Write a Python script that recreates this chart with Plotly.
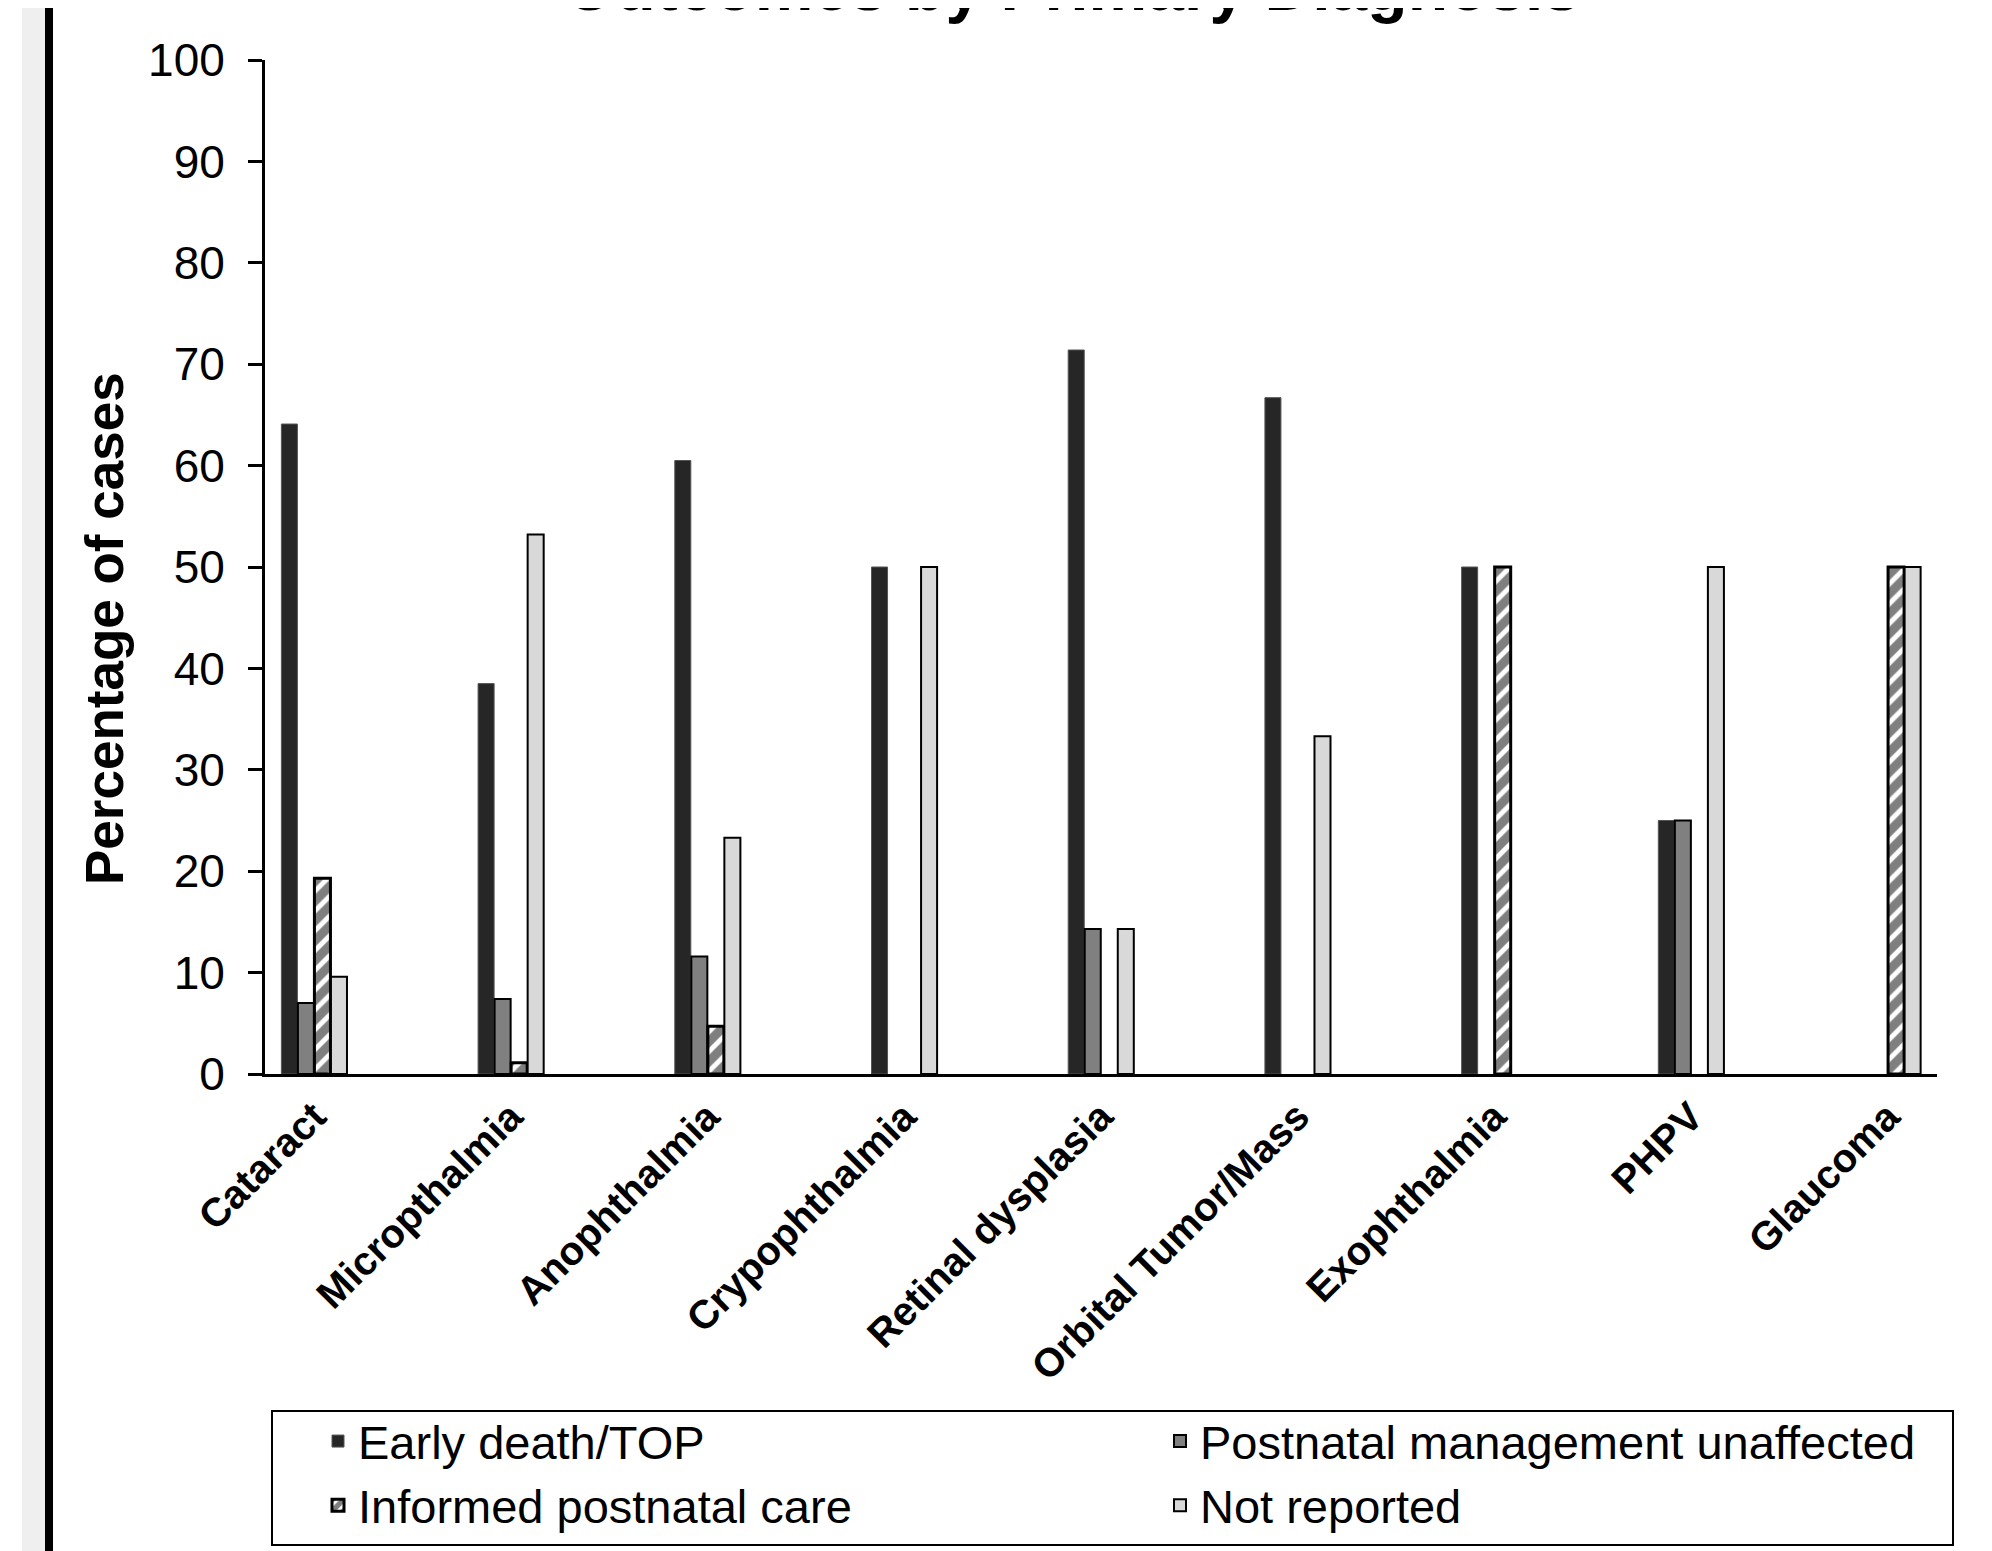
import plotly.graph_objects as go

categories = ["Cataract", "Micropthalmia", "Anophthalmia", "Crypophthalmia",
              "Retinal dysplasia", "Orbital Tumor/Mass", "Exophthalmia", "PHPV", "Glaucoma"]
early_death = [64.1, 38.5, 60.5, 50.0, 71.4, 66.7, 50.0, 25.0, None]
postnatal_unaffected = [7.0, 7.4, 11.6, None, 14.3, None, None, 25.0, None]
informed_care = [19.3, 1.1, 4.7, None, None, None, 50.0, None, 50.0]
not_reported = [9.6, 53.2, 23.3, 50.0, 14.3, 33.3, None, 50.0, 50.0]
y_ticks = [0, 10, 20, 30, 40, 50, 60, 70, 80, 90, 100]

FONT = "Liberation Sans, Arial, sans-serif"
OFF = 8  # page body margin
W, H = 1992, 1551
# desired page-pixel plot area: x 265..1937, y 60..1074
L, R, T, B = 265 - OFF, 1937 - OFF, 60 - OFF, 1074 - OFF


def px_x(p):
    return (p - OFF - L) / (R - L)


def px_y(p):
    return (B - (p - OFF)) / (B - T)


fig = go.Figure()
fig.add_trace(go.Bar(name="Early death/TOP", x=categories, y=early_death, legend="legend",
                     marker=dict(color="#262626", line=dict(color="#555555", width=1))))
fig.add_trace(go.Bar(name="Postnatal management unaffected", x=categories, y=postnatal_unaffected,
                     legend="legend2",
                     marker=dict(color="#808080", line=dict(color="#000000", width=2))))
fig.add_trace(go.Bar(name="Informed postnatal care", x=categories, y=informed_care, legend="legend",
                     marker=dict(color="#ffffff", line=dict(color="#000000", width=3),
                                 pattern=dict(shape="/", fgcolor="#000000", bgcolor="#ffffff",
                                              size=14, solidity=0.65))))
fig.add_trace(go.Bar(name="Not reported", x=categories, y=not_reported, legend="legend2",
                     marker=dict(color="#d9d9d9", line=dict(color="#000000", width=2))))

legend_common = dict(orientation="v", yanchor="top", xanchor="left",
                     font=dict(size=47, family=FONT, color="black"),
                     borderwidth=0, bgcolor="rgba(0,0,0,0)", traceorder="normal")

fig.update_layout(
    width=W, height=H,
    margin=dict(l=L, r=W - R, t=T, b=H - B, autoexpand=False),
    paper_bgcolor="white", plot_bgcolor="white",
    barmode="group", bargap=0.664, bargroupgap=0.03,
    font=dict(family=FONT, color="black"),
    showlegend=True,
    legend=dict(x=px_x(318), y=px_y(1404), **legend_common),
    legend2=dict(x=px_x(1160), y=px_y(1404), **legend_common),
    xaxis=dict(type="category", range=[-0.25, 8.25], showline=True, linecolor="black",
               linewidth=3, ticks="", tickangle=-45, automargin=False,
               tickfont=dict(size=40, family=FONT, color="black", weight="bold"),
               showgrid=False, zeroline=False),
    yaxis=dict(range=[0, 100], tickvals=y_ticks, showline=True, linecolor="black", linewidth=3,
               ticks="outside", ticklen=14, tickwidth=3, tickcolor="black",
               ticklabelstandoff=14, automargin=False,
               tickfont=dict(size=46, family=FONT, color="black"),
               showgrid=False, zeroline=False),
    shapes=[
        dict(type="rect", xref="paper", yref="paper", x0=px_x(22), x1=px_x(45),
             y0=-1, y1=2, fillcolor="#efefef", line=dict(width=0), layer="below"),
        dict(type="rect", xref="paper", yref="paper", x0=px_x(45), x1=px_x(53),
             y0=-1, y1=2, fillcolor="#000000", line=dict(width=0), layer="above"),
        # legend frame
        dict(type="rect", xref="paper", yref="paper", x0=px_x(272), x1=px_x(1953),
             y0=px_y(1411), y1=px_y(1545), fillcolor="rgba(0,0,0,0)",
             line=dict(color="black", width=2), layer="above"),
    ],
    annotations=[
        dict(text="<b>Outcomes by Primary Diagnosis</b>", xref="paper", yref="paper",
             x=px_x(1072), y=px_y(26), xanchor="center", yanchor="bottom", showarrow=False,
             font=dict(size=66, family=FONT, color="black")),
        dict(text="<b>Percentage of cases</b>", xref="paper", yref="paper",
             x=px_x(104), y=px_y(629), xanchor="center", yanchor="middle", showarrow=False,
             textangle=-90, font=dict(size=53, family=FONT, color="black")),
    ],
)

fig.write_html("out.html")
